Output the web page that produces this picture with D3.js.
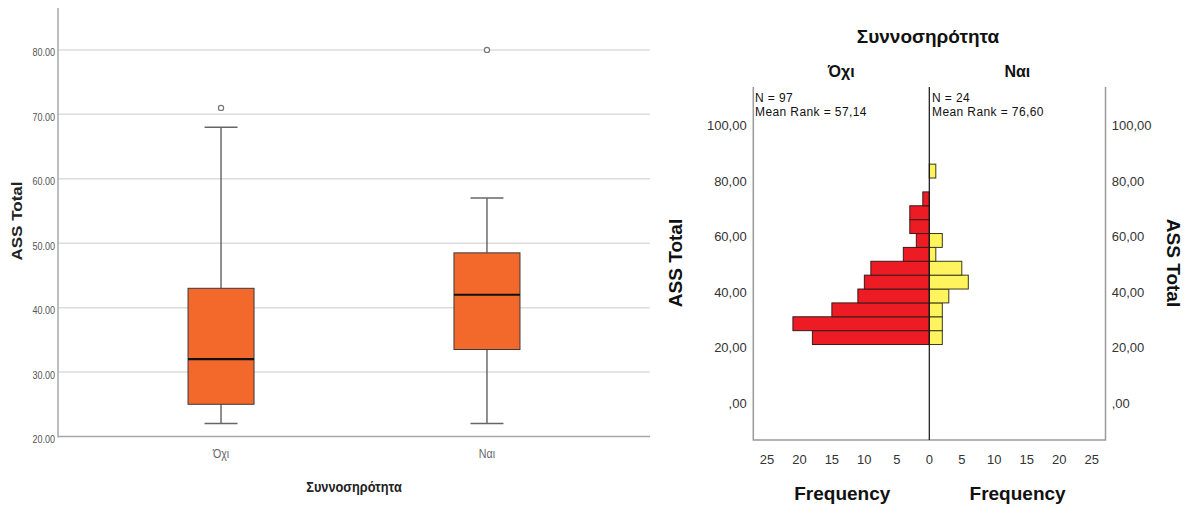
<!DOCTYPE html>
<html>
<head>
<meta charset="utf-8">
<script src="https://cdn.jsdelivr.net/npm/d3@7"></script>
<style>
  html, body { margin: 0; padding: 0; background: #fff; }
  svg { display: block; font-family: Arial, "Liberation Sans", sans-serif; }
</style>
</head>
<body>
<svg id="chart" width="1200" height="505"></svg>
<script>
// ---- Box plot data (ASS Total by Συννοσηρότητα) ----
const boxGroups   = ["Όχι", "Ναι"];
const boxMin      = [22, 22];
const boxQ1       = [25, 33.5];
const boxMedian   = [32, 42];
const boxQ3       = [43, 48.5];
const boxMax      = [68, 57];
const boxOutliers = [[71], [80]];
const boxTicks    = [20, 30, 40, 50, 60, 70, 80];
const boxTickLabels = ["20.00", "30.00", "40.00", "50.00", "60.00", "70.00", "80.00"];

// ---- Population pyramid data (frequency per 5-point bin) ----
const binStarts = [20, 25, 30, 35, 40, 45, 50, 55, 60, 65, 70, 75, 80];
const binWidth  = 5;
const countsNo  = [18, 21, 15, 11, 10, 9, 4, 2, 3, 3, 1, 0, 0];
const countsYes = [2, 2, 2, 3, 6, 5, 1, 2, 0, 0, 0, 0, 1];
const freqTicks = [0, 5, 10, 15, 20, 25];
const histTicks = [0, 20, 40, 60, 80, 100];
const histTickLabels = [",00", "20,00", "40,00", "60,00", "80,00", "100,00"];
const panelNames = ["Όχι", "Ναι"];
const panelN = ["N = 97", "N = 24"];
const panelRank = ["Mean Rank = 57,14", "Mean Rank = 76,60"];

const svg = d3.select("#chart");

// =================== Left: box plot ===================
const bx = { left: 58, right: 650, top: 8, bottom: 436.5 };
const yBox = d3.scaleLinear().domain([20, 86.5]).range([bx.bottom, bx.top]);
const xBox = d3.scalePoint().domain(boxGroups).range([bx.left, bx.right]).padding(0.613);
const boxW = 66, capW = 33;
const squeeze = 0.82;

const gBox = svg.append("g");

// gridlines
gBox.selectAll("line.grid").data(boxTicks.slice(1)).join("line")
  .attr("x1", bx.left).attr("x2", bx.right)
  .attr("y1", d => yBox(d)).attr("y2", d => yBox(d))
  .attr("stroke", "#dcdcdc").attr("stroke-width", 1.5);

// axes lines
gBox.append("line").attr("x1", bx.left).attr("x2", bx.left)
  .attr("y1", bx.top).attr("y2", bx.bottom + 1)
  .attr("stroke", "#a8a8a8").attr("stroke-width", 1.5);
gBox.append("line").attr("x1", bx.left).attr("x2", bx.right)
  .attr("y1", bx.bottom).attr("y2", bx.bottom)
  .attr("stroke", "#a8a8a8").attr("stroke-width", 1.5);

// y tick labels (condensed)
gBox.selectAll("g.ytl").data(boxTicks).join("g")
  .attr("transform", d => `translate(55,${yBox(d) + 6.5}) scale(${squeeze},1)`)
  .append("text")
  .attr("text-anchor", "end").attr("font-size", 11).attr("fill", "#555")
  .text((d, i) => boxTickLabels[i]);

// boxes
const boxData = boxGroups.map((g, i) => ({
  g, min: boxMin[i], q1: boxQ1[i], med: boxMedian[i], q3: boxQ3[i], max: boxMax[i], out: boxOutliers[i]
}));

const bg = gBox.selectAll("g.box").data(boxData).join("g");
// whiskers
bg.append("line")
  .attr("x1", d => xBox(d.g)).attr("x2", d => xBox(d.g))
  .attr("y1", d => yBox(d.max)).attr("y2", d => yBox(d.q3))
  .attr("stroke", "#555").attr("stroke-width", 1.3);
bg.append("line")
  .attr("x1", d => xBox(d.g)).attr("x2", d => xBox(d.g))
  .attr("y1", d => yBox(d.q1)).attr("y2", d => yBox(d.min))
  .attr("stroke", "#555").attr("stroke-width", 1.3);
bg.append("line")
  .attr("x1", d => xBox(d.g) - capW / 2).attr("x2", d => xBox(d.g) + capW / 2)
  .attr("y1", d => yBox(d.max)).attr("y2", d => yBox(d.max))
  .attr("stroke", "#666").attr("stroke-width", 1.5);
bg.append("line")
  .attr("x1", d => xBox(d.g) - capW / 2).attr("x2", d => xBox(d.g) + capW / 2)
  .attr("y1", d => yBox(d.min)).attr("y2", d => yBox(d.min))
  .attr("stroke", "#666").attr("stroke-width", 1.5);
// box
bg.append("rect")
  .attr("x", d => xBox(d.g) - boxW / 2).attr("width", boxW)
  .attr("y", d => yBox(d.q3)).attr("height", d => yBox(d.q1) - yBox(d.q3))
  .attr("fill", "#f2692b").attr("stroke", "#3a3a3a").attr("stroke-width", 1);
// median
bg.append("line")
  .attr("x1", d => xBox(d.g) - boxW / 2).attr("x2", d => xBox(d.g) + boxW / 2)
  .attr("y1", d => yBox(d.med)).attr("y2", d => yBox(d.med))
  .attr("stroke", "#111").attr("stroke-width", 2.2);
// outliers
bg.selectAll("circle").data(d => d.out.map(v => ({ g: d.g, v }))).join("circle")
  .attr("cx", d => xBox(d.g)).attr("cy", d => yBox(d.v)).attr("r", 2.6)
  .attr("fill", "#fff").attr("stroke", "#777").attr("stroke-width", 1.2);

// category labels
gBox.selectAll("g.xtl").data(boxGroups).join("g")
  .attr("transform", d => `translate(${xBox(d)},458) scale(${squeeze},1)`)
  .append("text")
  .attr("text-anchor", "middle").attr("font-size", 13).attr("fill", "#666")
  .text(d => d);

// axis titles
gBox.append("g").attr("transform", `translate(354,492) scale(0.85,1)`)
  .append("text").attr("text-anchor", "middle").attr("font-size", 15)
  .attr("font-weight", "bold").attr("fill", "#222").text("Συννοσηρότητα");
gBox.append("g").attr("transform", `translate(21.5,221) scale(${squeeze},1) rotate(-90)`)
  .append("text").attr("text-anchor", "middle").attr("font-size", 17)
  .attr("font-weight", "bold").attr("fill", "#222").text("ASS Total");

// =================== Right: back-to-back histogram ===================
const hp = { left: 753.3, center: 929.3, right: 1105.5, top: 87, bottom: 440 };
const yHist = d3.scaleLinear().domain([-14.4, 112.8]).range([hp.bottom, hp.top]);
const xLeft = d3.scaleLinear().domain([0, 27.1]).range([hp.center, hp.left]);
const xRight = d3.scaleLinear().domain([0, 27.1]).range([hp.center, hp.right]);

const gH = svg.append("g");

// frame
gH.append("path")
  .attr("d", `M${hp.left},${hp.top}V${hp.bottom}H${hp.right}V${hp.top}`)
  .attr("fill", "none").attr("stroke", "#9a9a9a").attr("stroke-width", 1.5);

// bars: Όχι (left, red), Ναι (right, yellow)
const noData = binStarts.map((b, i) => ({ b, c: countsNo[i] })).filter(d => d.c > 0);
const yesData = binStarts.map((b, i) => ({ b, c: countsYes[i] })).filter(d => d.c > 0);

gH.selectAll("rect.no").data(noData).join("rect")
  .attr("x", d => xLeft(d.c)).attr("width", d => xLeft(0) - xLeft(d.c))
  .attr("y", d => yHist(d.b + binWidth)).attr("height", d => yHist(d.b) - yHist(d.b + binWidth))
  .attr("fill", "#ed1c24").attr("stroke", "#3a1a1a").attr("stroke-width", 1);

gH.selectAll("rect.yes").data(yesData).join("rect")
  .attr("x", xRight(0)).attr("width", d => xRight(d.c) - xRight(0))
  .attr("y", d => yHist(d.b + binWidth)).attr("height", d => yHist(d.b) - yHist(d.b + binWidth))
  .attr("fill", "#fff35e").attr("stroke", "#3a3a1a").attr("stroke-width", 1);

// center line
gH.append("line").attr("x1", hp.center).attr("x2", hp.center)
  .attr("y1", hp.top).attr("y2", hp.bottom)
  .attr("stroke", "#111").attr("stroke-width", 1.2);

// y tick labels on both sides
gH.selectAll("text.yl").data(histTicks).join("text")
  .attr("x", 746.7).attr("y", d => yHist(d) + 7.5)
  .attr("text-anchor", "end").attr("font-size", 13).attr("fill", "#333")
  .text((d, i) => histTickLabels[i]);
gH.selectAll("text.yr").data(histTicks).join("text")
  .attr("x", 1111.7).attr("y", d => yHist(d) + 7.5)
  .attr("text-anchor", "start").attr("font-size", 13).attr("fill", "#333")
  .text((d, i) => histTickLabels[i]);

// frequency tick labels
gH.selectAll("text.fl").data(freqTicks).join("text")
  .attr("x", d => xLeft(d)).attr("y", 463.5)
  .attr("text-anchor", "middle").attr("font-size", 13).attr("fill", "#333")
  .text(d => d);
gH.selectAll("text.fr").data(freqTicks.slice(1)).join("text")
  .attr("x", d => xRight(d)).attr("y", 463.5)
  .attr("text-anchor", "middle").attr("font-size", 13).attr("fill", "#333")
  .text(d => d);

// Frequency titles
[842.3, 1017.6].forEach(cx => {
  gH.append("text").attr("x", cx).attr("y", 500)
    .attr("text-anchor", "middle").attr("font-size", 19).attr("font-weight", "bold")
    .attr("fill", "#111").text("Frequency");
});

// panel headers and annotations
const panelCenters = [(hp.left + hp.center) / 2, (hp.center + hp.right) / 2];
gH.selectAll("text.ph").data(panelNames).join("text")
  .attr("x", (d, i) => panelCenters[i]).attr("y", 77)
  .attr("text-anchor", "middle").attr("font-size", 16).attr("font-weight", "bold")
  .attr("fill", "#111").text(d => d);

const annX = [755, 932];
gH.selectAll("text.pn").data(panelN).join("text")
  .attr("x", (d, i) => annX[i]).attr("y", 101.5)
  .attr("font-size", 12).attr("letter-spacing", 0.4).attr("fill", "#111").text(d => d);
gH.selectAll("text.pr").data(panelRank).join("text")
  .attr("x", (d, i) => annX[i]).attr("y", 115.5)
  .attr("font-size", 12).attr("letter-spacing", 0.4).attr("fill", "#111").text(d => d);

// titles
gH.append("text").attr("x", 928).attr("y", 43)
  .attr("text-anchor", "middle").attr("font-size", 19).attr("font-weight", "bold")
  .attr("fill", "#111").text("Συννοσηρότητα");
gH.append("text").attr("transform", "translate(682,263) rotate(-90)")
  .attr("text-anchor", "middle").attr("font-size", 19).attr("font-weight", "bold")
  .attr("fill", "#111").text("ASS Total");
gH.append("text").attr("transform", "translate(1167,263) rotate(90)")
  .attr("text-anchor", "middle").attr("font-size", 19).attr("font-weight", "bold")
  .attr("fill", "#111").text("ASS Total");
</script>
</body>
</html>
